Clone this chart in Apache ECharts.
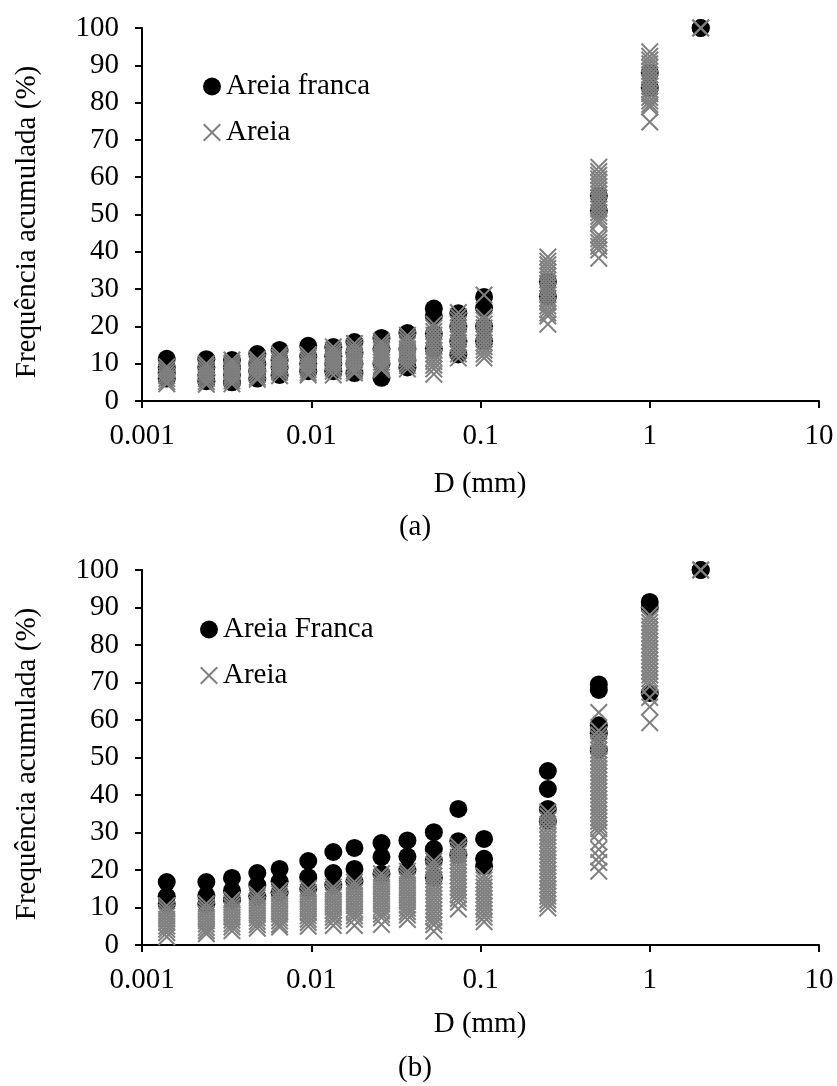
<!DOCTYPE html>
<html>
<head>
<meta charset="utf-8">
<script src="https://cdn.jsdelivr.net/npm/echarts@6/dist/echarts.min.js"></script>
<style>
html,body{margin:0;padding:0;background:#fff;}
#chart{width:837px;height:1086px;}
</style>
</head>
<body>
<div id="chart"></div>
<script>
// Particle diameters (mm)
const diameters = [0.0014, 0.0024, 0.0034, 0.0048, 0.0065, 0.0096, 0.0135, 0.018, 0.026, 0.037, 0.053, 0.074, 0.105, 0.25, 0.5, 1, 2];
const xTickLabels = ['0.001', '0.01', '0.1', '1', '10'];

// (a) cumulative frequency (%) per diameter
const francaA = [
  [11.3, 9, 7.5, 6],
  [11.2, 9, 7, 5.3],
  [11, 9, 7, 5],
  [12.6, 10, 8, 6],
  [13.7, 11, 9, 7],
  [14.8, 12, 10, 8],
  [14.5, 12, 10, 8],
  [15.8, 13, 10, 7.5],
  [16.9, 14, 10, 6.2],
  [18.2, 14, 11, 9],
  [24.8, 22.8, 18, 14],
  [23.5, 20, 16, 12.5],
  [27.9, 24.9, 20, 16],
  [32, 28],
  [55, 51],
  [88, 84],
  [100, 100]
];
const areiaA = [
  [9.2, 8.4, 7.6, 6.8, 6, 5.2, 4.6],
  [10, 9.2, 8.4, 7.6, 6.8, 6, 5.2, 4.5],
  [11, 10.2, 9.4, 8.6, 7.8, 7, 6.2, 5.4, 4.6],
  [11.2, 10.4, 9.6, 8.8, 8, 7.2, 6.4, 5.8],
  [12.5, 11.7, 10.9, 10.1, 9.3, 8.5, 7.7, 6.8],
  [12.4, 11.6, 10.8, 10, 9.2, 8.4, 7.6, 7],
  [14.5, 13.6, 12.8, 12, 11.2, 10.4, 9.6, 8.8, 8, 7],
  [15.4, 14.5, 13.7, 12.9, 12.1, 11.3, 10.5, 9.7, 8.9, 8.1, 7.5],
  [16, 15.2, 14.4, 13.6, 12.8, 12, 11.2, 10.4, 9.6, 8.8, 8.4],
  [17.6, 16.7, 15.8, 14.9, 14, 13.1, 12.2, 11.3, 10.4, 9.5, 8.6],
  [20.6, 19.6, 18.6, 17.6, 16.6, 15.6, 14.6, 13.6, 12.6, 11.6, 10.6, 9.6, 8.6, 7.2],
  [23.7, 22.6, 21.6, 20.6, 19.6, 18.6, 17.6, 16.6, 15.6, 14.6, 13.6, 12.6, 11.5],
  [28.4, 22.6, 21.6, 20.6, 19.6, 18.6, 17.6, 16.6, 15.6, 14.6, 13.6, 12.6, 11.5],
  [38.6, 37.5, 36.5, 35.5, 34.5, 33.5, 32.5, 31.5, 30.5, 29.5, 28.5, 27.5, 26.5, 25.5, 24.5, 23.6, 22.8, 20.6],
  [62.7, 61.5, 60.5, 59.5, 58.5, 57.5, 56.5, 55.5, 54.5, 53.5, 52.5, 51.5, 50.5, 49.5, 48.6, 47.8, 44.5, 43.5, 42.5, 41.5, 40.5, 38.3],
  [93.6, 92.4, 91.4, 90.4, 89.4, 88.4, 87.4, 86.4, 85.4, 84.4, 83.4, 82.4, 81.4, 80.4, 79.5, 78.8, 74.8],
  [100, 100]
];

// (b) cumulative frequency (%) per diameter
const francaB = [
  [16.8, 13, 11],
  [16.8, 13.2, 11],
  [17.9, 14.5, 12],
  [19.2, 16, 13],
  [20.3, 17, 14],
  [22.4, 18.1, 15],
  [24.8, 19.2, 16],
  [25.9, 20.3, 17],
  [27.2, 23.5, 19],
  [27.9, 23.6, 20],
  [30.1, 25.6, 22.6, 18],
  [36.3, 27.7, 24],
  [28.3, 23, 21],
  [46.4, 41.6, 36.3, 33],
  [69.5, 68, 58.6, 56.5, 52],
  [91.5, 90, 67.2],
  [100, 100]
];
const areiaB = [
  [10.5, 9.6, 8.7, 7.8, 6.9, 6, 5.1, 4.2, 3.3, 2.2],
  [11, 10.1, 9.2, 8.3, 7.4, 6.5, 5.6, 4.7, 3.8, 3],
  [12, 11.1, 10.2, 9.3, 8.4, 7.5, 6.6, 5.7, 4.8, 3.8],
  [13.5, 12.6, 11.7, 10.8, 9.9, 9, 8.1, 7.2, 6.3, 5.4, 4.5],
  [14.5, 13.6, 12.7, 11.8, 10.9, 10, 9.1, 8.2, 7.3, 6.4, 5.5, 4.8],
  [15, 14.1, 13.2, 12.3, 11.4, 10.5, 9.6, 8.7, 7.8, 6.9, 6, 5],
  [15.5, 14.6, 13.7, 12.8, 11.9, 11, 10.1, 9.2, 8.3, 7.4, 6.5, 5.2],
  [16.8, 15.9, 15, 14.1, 13.2, 12.3, 11.4, 10.5, 9.6, 8.7, 7.8, 6.9, 5.2],
  [19, 18.1, 17.2, 16.3, 15.4, 14.5, 13.6, 12.7, 11.8, 10.9, 10, 9.1, 8.2, 7.3, 5.5],
  [19.7, 18.8, 17.9, 17, 16.1, 15.2, 14.3, 13.4, 12.5, 11.6, 10.7, 9.8, 8.9, 8, 6.8],
  [22.4, 21.4, 20.4, 19.4, 18.4, 17.4, 16.4, 15.4, 14.4, 13.4, 12.4, 11.4, 10.4, 9.4, 8.4, 7.4, 6.4, 5.4, 3.7],
  [26.4, 25.4, 24.4, 23.4, 22.4, 21.4, 20.4, 19.4, 18.4, 17.4, 16.4, 15.4, 14.4, 13.4, 12.4, 11.4, 9.6],
  [18.4, 17.4, 16.4, 15.4, 14.4, 13.4, 12.4, 11.4, 10.4, 9.4, 8.4, 7.4, 6.2],
  [35.5, 34.4, 33.3, 32.2, 31.1, 30, 29, 28, 27, 26, 25, 24, 23, 22, 21, 20, 19, 18, 17, 16, 15, 14, 13, 12, 11, 9.9],
  [62, 57.2, 56, 55, 54, 53, 52, 51, 50, 49, 48, 47, 46, 45, 44, 43, 42, 41, 40, 39, 38, 37, 36, 35, 34, 33, 32, 31, 30, 27.5, 25.5, 23.5, 22, 19.7],
  [88, 87, 86, 85, 84, 83, 82, 81, 80, 79, 78, 77, 76, 75, 74, 73, 72, 71, 70, 69, 66, 63.5, 59.3],
  [100, 100]
];

const FONT = '"Liberation Serif", "Times New Roman", serif';
const FS = 29;
const XPATH = 'path://M0,1.6L1.6,0L10,8.4L18.4,0L20,1.6L11.6,10L20,18.4L18.4,20L10,11.6L1.6,20L0,18.4L8.4,10Z';

function pts(cols) {
  const out = [];
  cols.forEach((vals, i) => vals.forEach(v => out.push([diameters[i], v])));
  return out;
}

function xAxisFor(gi) {
  return {
    type: 'log', logBase: 10, min: 0.001, max: 10, splitNumber: 4, gridIndex: gi,
    axisLine: { lineStyle: { color: '#000', width: 2 } },
    axisTick: { show: true, inside: false, length: 7, lineStyle: { color: '#000', width: 2 } },
    minorTick: { show: false },
    splitLine: { show: false },
    axisLabel: {
      color: '#000', fontFamily: FONT, fontSize: FS, margin: 21,
      formatter: v => {
        const e = Math.round(Math.log10(v));
        return xTickLabels[e + 3] !== undefined ? xTickLabels[e + 3] : '';
      }
    }
  };
}
function yAxisFor(gi) {
  return {
    type: 'value', min: 0, max: 100, interval: 10, gridIndex: gi,
    axisLine: { show: true, lineStyle: { color: '#000', width: 2 } },
    axisTick: { show: true, inside: false, length: 7, lineStyle: { color: '#000', width: 2 } },
    splitLine: { show: false },
    axisLabel: { color: '#000', fontFamily: FONT, fontSize: FS, margin: 23 }
  };
}
function circleSeries(name, data, gi) {
  return { type: 'scatter', name, xAxisIndex: gi, yAxisIndex: gi, data: pts(data),
    symbol: 'circle', symbolSize: 18, itemStyle: { color: '#000', opacity: 1 }, silent: true };
}
function xSeries(name, data, gi) {
  return { type: 'scatter', name, xAxisIndex: gi, yAxisIndex: gi, data: pts(data),
    symbol: XPATH, symbolSize: 18, itemStyle: { color: '#808080', opacity: 1 }, silent: true };
}
function txt(x, y, s, rot) {
  return { type: 'text', x, y, rotation: rot || 0,
    style: { text: s, fill: '#000', font: FS + 'px ' + FONT, align: 'center', verticalAlign: 'middle' } };
}

const chart = echarts.init(document.getElementById('chart'), null, { renderer: 'canvas' });
chart.setOption({
  animation: false,
  backgroundColor: '#fff',
  grid: [
    { left: 142, top: 28, width: 677, height: 373 },
    { left: 142, top: 570, width: 677, height: 375 }
  ],
  xAxis: [xAxisFor(0), xAxisFor(1)],
  yAxis: [yAxisFor(0), yAxisFor(1)],
  legend: [
    { data: ['Areia franca', 'Areia'], orient: 'vertical', left: 203, top: 72, padding: 0,
      itemWidth: 18, itemHeight: 18, itemGap: 17, selectedMode: false,
      textStyle: { color: '#000', fontFamily: FONT, fontSize: FS } },
    { data: ['Areia Franca', 'Areia'], orient: 'vertical', left: 200, top: 615, padding: 0,
      itemWidth: 18, itemHeight: 18, itemGap: 17, selectedMode: false,
      textStyle: { color: '#000', fontFamily: FONT, fontSize: FS } }
  ],
  series: [
    circleSeries('Areia franca', francaA, 0),
    xSeries('Areia', areiaA, 0),
    circleSeries('Areia Franca', francaB, 1),
    xSeries('Areia', areiaB, 1)
  ],
  graphic: [
    txt(27, 222, 'Frequência acumulada (%)', Math.PI / 2),
    txt(27, 764, 'Frequência acumulada (%)', Math.PI / 2),
    txt(480, 484, 'D (mm)'),
    txt(480, 1024, 'D (mm)'),
    txt(415, 527, '(a)'),
    txt(415, 1068, '(b)')
  ]
});
</script>
</body>
</html>
